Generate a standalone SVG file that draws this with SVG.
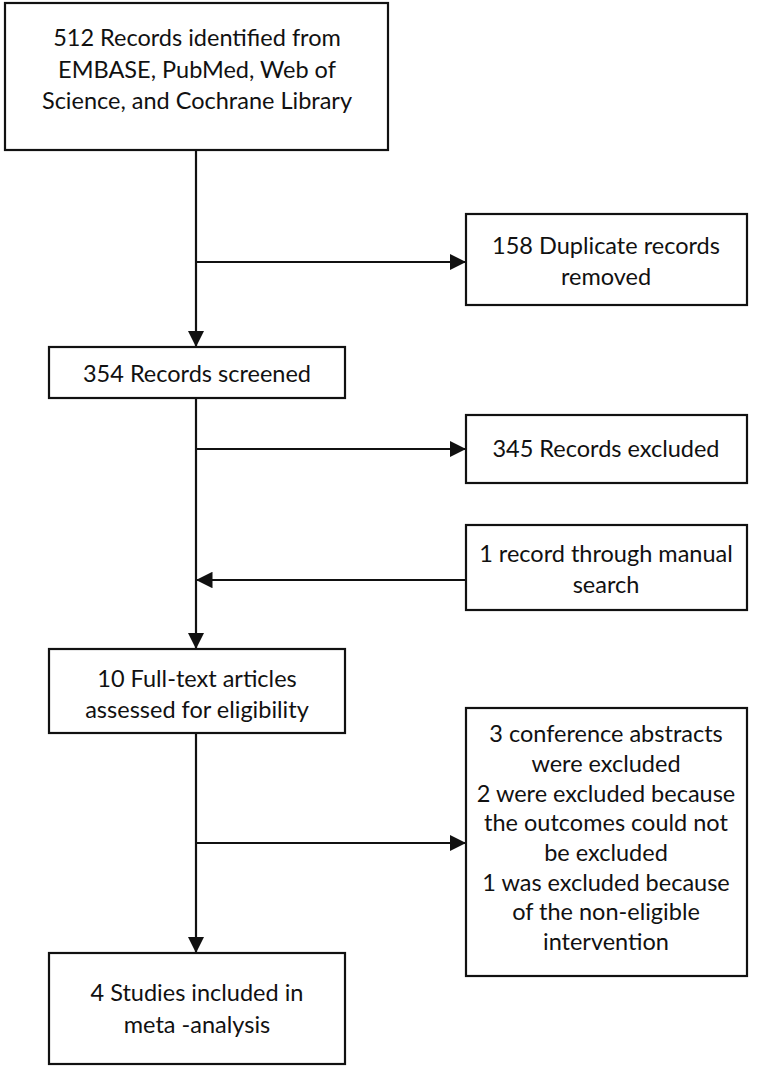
<svg xmlns="http://www.w3.org/2000/svg" width="767" height="1068" viewBox="0 0 767 1068">
<defs>
<marker id="arr" viewBox="0 0 10 10" refX="10" refY="5" markerWidth="7.5" markerHeight="7.5" markerUnits="strokeWidth" orient="auto">
<path d="M0,0 L10,5 L0,10 z" fill="#111"/>
</marker>
<style>
.box{fill:#fff;stroke:#111;stroke-width:2.2}
.t{font-family:Lato,"Liberation Sans",sans-serif;font-size:23.5px;fill:#111;text-anchor:middle}
.c{stroke:#111;stroke-width:2.2;fill:none}
</style>
</defs>
<rect width="767" height="1068" fill="#fff"/>
<g id="connectors">
<line class="c" x1="196" y1="150" x2="196" y2="347" marker-end="url(#arr)"/>
<line class="c" x1="196" y1="262" x2="466" y2="262" marker-end="url(#arr)"/>
<line class="c" x1="196" y1="398" x2="196" y2="649" marker-end="url(#arr)"/>
<line class="c" x1="196" y1="449" x2="466" y2="449" marker-end="url(#arr)"/>
<line class="c" x1="466" y1="580" x2="196" y2="580" marker-end="url(#arr)"/>
<line class="c" x1="196" y1="733" x2="196" y2="953" marker-end="url(#arr)"/>
<line class="c" x1="196" y1="843" x2="466" y2="843" marker-end="url(#arr)"/>
</g>
<g id="n1">
<rect class="box" x="5" y="3" width="383" height="147"/>
<text class="t" x="197" y="46">512 Records identified from</text>
<text class="t" x="197" y="78">EMBASE, PubMed, Web of</text>
<text class="t" x="197" y="109">Science, and Cochrane Library</text>
</g>
<g id="n2">
<rect class="box" x="466" y="214" width="281" height="91"/>
<text class="t" x="606" y="254">158 Duplicate records</text>
<text class="t" x="606" y="285">removed</text>
</g>
<g id="n3">
<rect class="box" x="49" y="347" width="296" height="51"/>
<text class="t" x="197" y="382">354 Records screened</text>
</g>
<g id="n4">
<rect class="box" x="466" y="415" width="281" height="68"/>
<text class="t" x="606" y="457">345 Records excluded</text>
</g>
<g id="n5">
<rect class="box" x="466" y="525" width="281" height="85"/>
<text class="t" x="606" y="562">1 record through manual</text>
<text class="t" x="606" y="593">search</text>
</g>
<g id="n6">
<rect class="box" x="49" y="649" width="296" height="84"/>
<text class="t" x="197" y="687">10 Full-text articles</text>
<text class="t" x="197" y="718">assessed for eligibility</text>
</g>
<g id="n7">
<rect class="box" x="466" y="708" width="281" height="268"/>
<text class="t" x="606" y="742">3 conference abstracts</text>
<text class="t" x="606" y="772">were excluded</text>
<text class="t" x="606" y="802">2 were excluded because</text>
<text class="t" x="606" y="831">the outcomes could not</text>
<text class="t" x="606" y="861">be excluded</text>
<text class="t" x="606" y="891">1 was excluded because</text>
<text class="t" x="606" y="920">of the non-eligible</text>
<text class="t" x="606" y="950">intervention</text>
</g>
<g id="n8">
<rect class="box" x="49" y="953" width="296" height="111"/>
<text class="t" x="197" y="1001">4 Studies included in</text>
<text class="t" x="197" y="1033">meta -analysis</text>
</g>
</svg>
